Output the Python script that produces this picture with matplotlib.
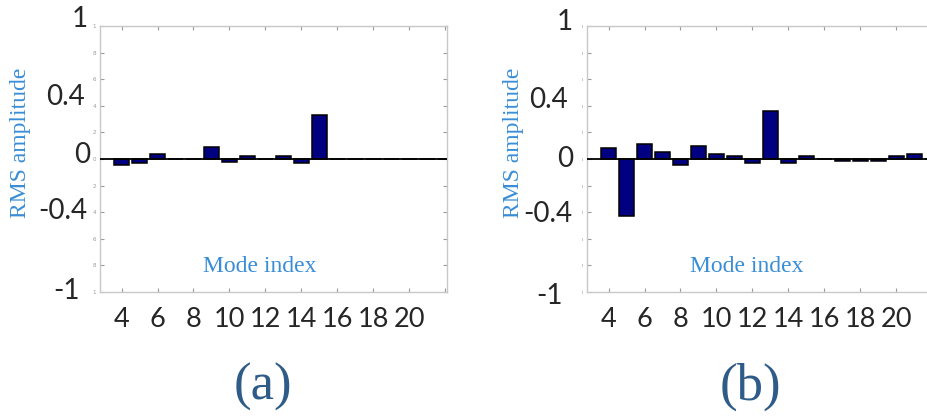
import matplotlib
matplotlib.use("Agg")
import matplotlib.pyplot as plt
import matplotlib.transforms as mtransforms
import numpy as np

# Mode indices and RMS amplitudes for the two cases
modes = list(range(4, 23))
rms_a = [-0.048, -0.03, 0.04, 0.0, 0.0, 0.088, -0.02, 0.025, 0.0, 0.025,
         -0.03, 0.33, 0.0, 0.0, 0.0, 0.0, 0.0, 0.0, 0.0]
rms_b = [0.083, -0.43, 0.115, 0.053, -0.048, 0.10, 0.04, 0.022, -0.03, 0.358,
         -0.033, 0.02, 0.003, -0.015, -0.015, -0.015, 0.02, 0.04, 0.0]

x_ticks = list(range(4, 23, 2))
x_ticklabels = ["4", "6", "8", "10", "12", "14", "16", "18", "20", ""]
y_ticks = [round(v, 1) for v in np.arange(-1.0, 1.01, 0.2)]
small_ylabels_a = ["1", "8", "6", "4", "2", "0", "2", "4", "6", "8", "1"]
small_ylabels_b = ["ı"] * 11
big_ylabels = ["1", "0.4", "0", "-0.4", "-1"]
panel_labels = ["(a)", "(b)"]

BAR_COLOR = "#000080"
BLUE_TEXT = "#3a8ed6"
DARK_TEXT = "#262626"
PANEL_COLOR = "#2e5b88"
SPINE_COLOR = "#c8c8c8"

W, H = 927, 416
fig = plt.figure(figsize=(W / 100, H / 100), dpi=100)

ax_w = 347 / W
ax_h = 266 / H
ax_b = (H - 292) / H
ax_a = fig.add_axes([100 / W, ax_b, ax_w, ax_h])
ax_bb = fig.add_axes([587 / W, ax_b, ax_w, ax_h])

# per-panel placement of the large y labels: (right edge in axes fraction, y in data)
big_pos_a = [(-0.034, 1.05), (-0.043, 0.466), (-0.029, 0.03), (-0.035, -0.39), (-0.058, -0.995)]
big_pos_b = [(-0.04, 1.03), (-0.055, 0.44), (-0.04, 0.0), (-0.043, -0.41), (-0.069, -1.03)]

panels = [
    (ax_a, rms_a, small_ylabels_a, big_pos_a, panel_labels[0], 263),
    (ax_bb, rms_b, small_ylabels_b, big_pos_b, panel_labels[1], 750),
]

for ax, vals, small_lbls, big_pos, plabel, px in panels:
    ax.bar(modes, vals, width=0.84, color=BAR_COLOR, edgecolor="black",
           linewidth=1.1, zorder=3)
    ax.axhline(0, color="black", linewidth=1.3, zorder=4)
    ax.set_xlim(2.8, 22.1)
    ax.set_ylim(-1, 1)

    for s in ax.spines.values():
        s.set_color(SPINE_COLOR)
        s.set_linewidth(1.0)

    ax.set_xticks(x_ticks)
    ax.set_xticklabels(x_ticklabels, fontsize=19.5, color=DARK_TEXT, family="Lato")
    ax.set_yticks(y_ticks)
    ax.set_yticklabels(small_lbls, fontsize=4, color="#999999")
    ax.tick_params(axis="x", which="both", direction="in", length=3, color="#999999",
                   top=True, bottom=True, pad=11)
    ax.tick_params(axis="y", which="both", direction="in", length=3, color="#999999",
                   left=True, right=True, pad=3)

    trans = mtransforms.blended_transform_factory(ax.transAxes, ax.transData)
    for txt, (xf, yd) in zip(big_ylabels, big_pos):
        ax.text(xf, yd, txt, transform=trans, ha="right", va="center",
                fontsize=20, color=DARK_TEXT, family="Lato", clip_on=False)

    ylab_x = -0.228 if ax is ax_a else -0.213
    ax.text(ylab_x, 0.56, "RMS amplitude", transform=ax.transAxes, rotation=90,
            ha="center", va="center", fontsize=17, color=BLUE_TEXT,
            family="Liberation Serif")
    ax.text(0.461, 0.094, "Mode index", transform=ax.transAxes, ha="center",
            va="center", fontsize=17, color=BLUE_TEXT, family="Liberation Serif")

    fig.text(px / W, 1 - 387 / H, plabel, ha="center", va="center", fontsize=38,
             color=PANEL_COLOR, family="Liberation Serif")

fig.savefig("out.png", dpi=100)
